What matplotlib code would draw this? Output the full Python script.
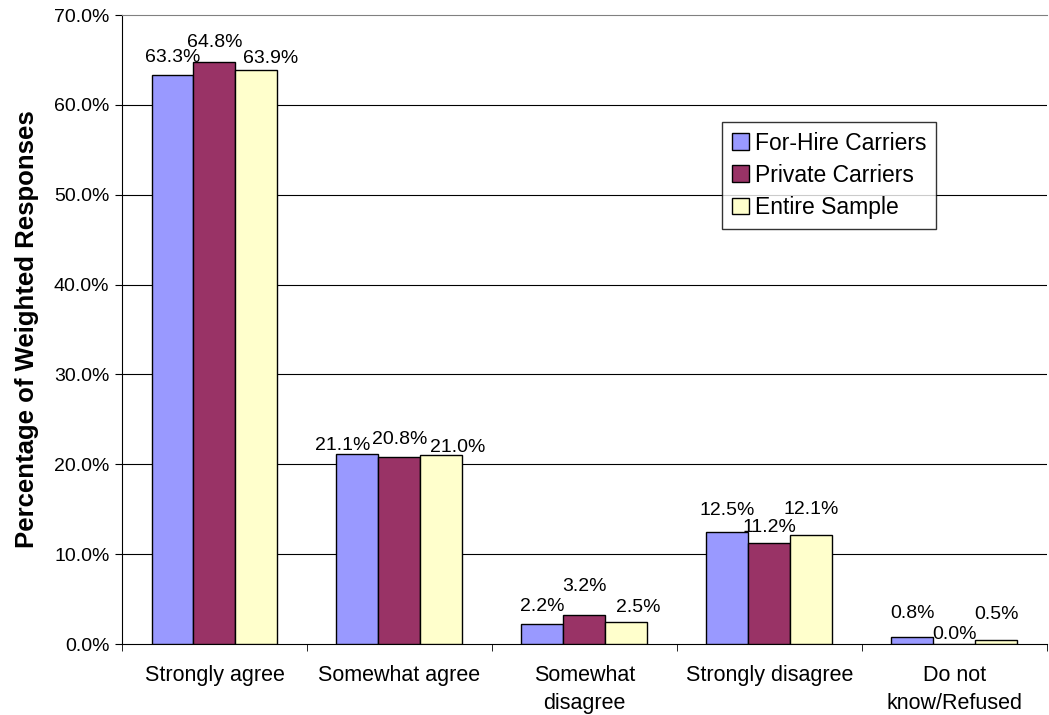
import matplotlib.pyplot as plt
import numpy as np

categories = ["Strongly agree", "Somewhat agree", "Somewhat\ndisagree",
              "Strongly disagree", "Do not\nknow/Refused"]
for_hire = [63.3, 21.1, 2.2, 12.5, 0.8]
private = [64.8, 20.8, 3.2, 11.2, 0.0]
entire = [63.9, 21.0, 2.5, 12.1, 0.5]
series = [("For-Hire Carriers", for_hire, "#9999FF"),
          ("Private Carriers", private, "#993366"),
          ("Entire Sample", entire, "#FFFFCC")]
yticks = np.arange(0, 71, 10)

# label nudges (pixels) the way the original chart placed them to dodge each other
label_dx = [[0, -15, 0, 0, 0],
            [0, 0, 0, 0, 0],
            [14, 16, 12, 0, 0]]
label_dy = [[18, 9, 18, 21, 23],
            [19, 18, 29, 16, 10],
            [11, 8, 14, 26, 25]]

plt.rcParams['font.family'] = ['Liberation Sans', 'DejaVu Sans']

fig = plt.figure(figsize=(10.49, 7.15), dpi=100)
ax = fig.add_axes([0.1163, 0.0993, 0.8817, 0.8797])

x = np.arange(len(categories))
w = 0.227
for i, (name, vals, col) in enumerate(series):
    pos = x + (i - 1) * w
    bars = ax.bar(pos, vals, w, color=col, edgecolor="black", linewidth=1.0,
                  label=name, zorder=3)
    for j, (b, v) in enumerate(zip(bars, vals)):
        ax.annotate(f"{v:.1f}%", (b.get_x() + b.get_width() / 2, v),
                    xytext=(label_dx[i][j], label_dy[i][j]),
                    textcoords="offset pixels", ha="center", va="center",
                    fontsize=14, zorder=4, annotation_clip=False)

ax.set_xlim(-0.5, len(categories) - 0.5)
ax.set_ylim(0, 70)
ax.set_yticks(yticks)
ax.set_yticklabels([f"{t:.1f}%" for t in yticks], fontsize=14)
ax.set_xticks(x)
ax.set_xticklabels(categories, fontsize=15.5, linespacing=1.45)
ax.tick_params(axis="x", length=0, pad=15)
ax.set_xticks(np.arange(-0.5, len(categories), 1), minor=True)
ax.tick_params(axis="x", which="minor", length=5, direction="out")
ax.tick_params(axis="y", length=5, direction="out", pad=4)
for t in yticks[1:-1]:
    ax.axhline(t, color="black", linewidth=0.8, zorder=0)
ax.spines["top"].set_color("#808080")
ax.spines["right"].set_visible(False)
ax.set_ylabel("Percentage of Weighted Responses", fontsize=18.5, fontweight="bold",
              labelpad=11)

leg = ax.legend(loc="upper left", bbox_to_anchor=(0.649, 0.83), fontsize=16.5,
                frameon=True, fancybox=False, edgecolor="black",
                handlelength=0.74, handleheight=0.74, handletextpad=0.25,
                labelspacing=0.4, borderpad=0.42, borderaxespad=0)
leg.get_frame().set_linewidth(1.0)

fig.savefig("out.png", dpi=100)
